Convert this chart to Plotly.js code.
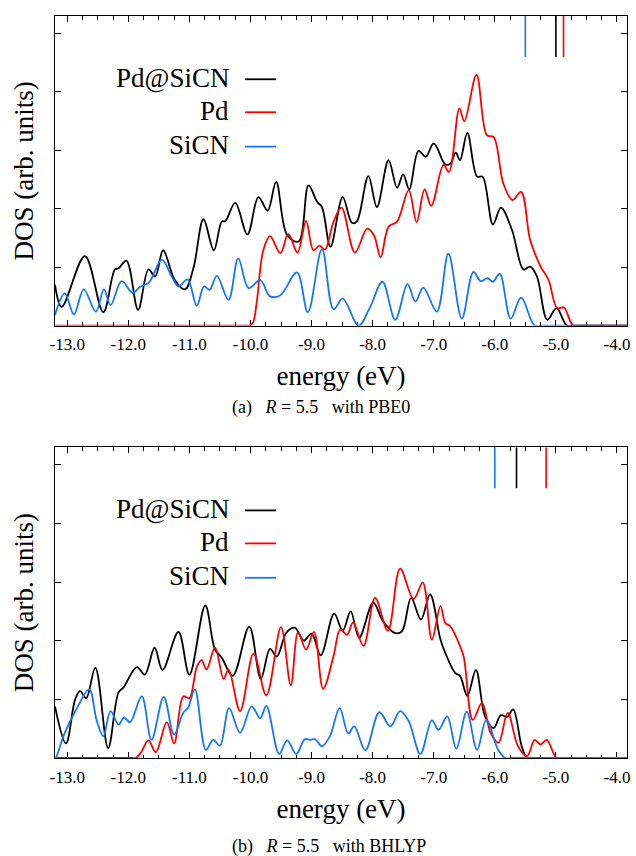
<!DOCTYPE html>
<html>
<head>
<meta charset="utf-8">
<script src="https://cdn.plot.ly/plotly-3.0.1.min.js"></script>
<style>html,body{margin:0;padding:0;background:#fff;}#chart{width:636px;height:856px;}</style>
</head>
<body>
<div id="chart"></div>
<script>
// ---------- data ----------
// Panel (a): R = 5.5 with PBE0
const pdsicnA_E = [-13.20,-13.09,-12.71,-12.41,-12.22,-12.16,-12.03,-11.84,-11.67,-11.56,-11.43,-11.24,-11.07,-10.93,-10.77,-10.60,-10.47,-10.41,-10.25,-10.05,-9.87,-9.72,-9.58,-9.40,-9.21,-9.05,-8.91,-8.83,-8.69,-8.49,-8.34,-8.26,-8.07,-7.93,-7.74,-7.60,-7.50,-7.40,-7.25,-7.13,-7.00,-6.81,-6.73,-6.64,-6.57,-6.45,-6.29,-6.20,-6.03,-5.90,-5.72,-5.53,-5.42,-5.31,-5.14,-4.99,-4.82,-4.70,-3.83];
const pdsicnA_D = [0.70,0.32,1.19,0.23,0.96,0.98,1.11,0.27,0.96,0.84,1.29,0.78,0.62,1.00,1.82,1.29,1.78,1.79,2.10,1.56,2.20,1.97,2.46,1.55,1.44,2.40,2.12,2.03,1.35,2.20,1.76,1.78,2.56,2.03,2.83,2.36,2.59,2.33,2.99,2.89,3.12,2.76,2.77,2.96,2.83,3.30,2.55,2.55,1.73,2.02,1.64,0.96,1.01,0.84,0.10,0.30,0.00,0.00,0.00];

const pdA_E = [-13.20,-10.10,-10.02,-9.96,-9.90,-9.79,-9.68,-9.51,-9.38,-9.23,-9.09,-8.97,-8.87,-8.78,-8.64,-8.51,-8.29,-8.09,-7.98,-7.87,-7.74,-7.60,-7.41,-7.28,-7.15,-7.04,-6.84,-6.75,-6.58,-6.50,-6.30,-6.13,-6.02,-5.86,-5.71,-5.57,-5.42,-5.25,-5.12,-4.98,-4.87,-4.72,-4.60,-3.83];
const pdA_D = [0,0,0,0.05,0.38,1.29,1.53,1.24,1.57,1.25,1.79,1.29,1.37,1.30,1.78,2.02,1.25,1.66,1.55,1.17,1.69,1.78,2.32,1.77,2.33,2.05,2.75,2.63,3.72,3.50,4.29,3.26,3.23,2.43,2.15,2.29,1.46,1.01,0.78,0.30,0.31,0.00,0,0];

const sicnA_E = [-13.20,-13.04,-12.89,-12.73,-12.53,-12.40,-12.29,-12.11,-11.93,-11.81,-11.66,-11.45,-11.29,-11.18,-11.03,-10.88,-10.76,-10.67,-10.55,-10.36,-10.20,-10.03,-9.84,-9.68,-9.51,-9.24,-9.06,-8.83,-8.64,-8.49,-8.23,-8.04,-7.84,-7.63,-7.43,-7.30,-7.17,-6.95,-6.76,-6.54,-6.35,-6.23,-6.12,-6.03,-5.92,-5.74,-5.57,-5.35,-5.22,-3.83];
const sicnA_D = [0.18,0.55,0.19,0.62,0.24,0.62,0.35,0.76,0.56,0.66,0.74,1.13,0.84,0.67,0.79,0.34,0.67,0.61,0.85,0.44,1.15,0.64,0.78,0.50,0.52,0.91,0.23,1.31,0.28,0.46,0.00,0.32,0.75,0.10,0.71,0.41,0.65,0.24,1.23,0.12,0.92,0.76,0.81,0.75,0.89,0.12,0.48,0.00,0,0];

// Panel (b): R = 5.5 with BHLYP
const pdsicnB_E = [-13.20,-13.02,-12.87,-12.79,-12.69,-12.54,-12.33,-12.16,-12.08,-11.86,-11.73,-11.57,-11.44,-11.18,-11.00,-10.74,-10.58,-10.47,-10.29,-10.02,-9.83,-9.68,-9.57,-9.41,-9.27,-9.13,-9.00,-8.85,-8.63,-8.49,-8.36,-8.22,-7.99,-7.83,-7.63,-7.52,-7.37,-7.21,-7.06,-6.89,-6.81,-6.65,-6.57,-6.45,-6.31,-6.16,-6.02,-5.90,-5.80,-5.70,-5.56,-5.47,-5.35,-3.83];
const pdsicnB_D = [0.88,0.25,1.00,1.14,1.02,1.54,0.17,1.12,1.20,1.55,1.42,1.88,1.50,2.15,1.42,2.60,1.85,1.71,1.40,2.24,1.35,1.86,1.73,2.14,2.22,2.00,2.12,1.75,2.46,2.17,2.50,2.05,2.65,2.33,2.13,2.16,2.73,2.36,2.79,2.02,1.79,1.45,1.40,1.06,1.50,0.71,0.51,0.73,0.70,0.83,0.20,0.00,0,0];

const pdB_E = [-13.20,-11.95,-11.88,-11.80,-11.67,-11.55,-11.37,-11.25,-11.10,-11.00,-10.88,-10.80,-10.72,-10.58,-10.44,-10.36,-10.17,-9.95,-9.74,-9.50,-9.34,-9.22,-9.09,-8.96,-8.81,-8.64,-8.53,-8.42,-8.32,-8.15,-7.96,-7.75,-7.55,-7.33,-7.18,-7.03,-6.89,-6.81,-6.73,-6.59,-6.51,-6.36,-6.21,-6.07,-5.94,-5.79,-5.62,-5.47,-5.35,-5.25,-5.15,-4.99,-4.88,-3.83];
const pdB_D = [0,0,0,0.08,0.30,0.10,0.61,0.25,1.05,1.02,1.55,1.67,1.51,1.88,1.35,1.51,0.80,1.78,1.07,2.23,1.24,2.14,1.85,2.15,1.18,1.74,2.19,2.10,2.31,1.91,2.73,2.17,3.23,2.71,2.99,2.02,2.59,2.30,2.25,1.96,1.73,0.65,0.94,0.43,0.26,0.77,0.20,0.03,0.31,0.23,0.31,0.00,0,0];

const sicnB_E = [-13.20,-13.19,-13.04,-12.85,-12.64,-12.52,-12.41,-12.29,-12.16,-12.07,-11.97,-11.78,-11.62,-11.42,-11.25,-11.10,-11.02,-10.91,-10.73,-10.61,-10.50,-10.35,-10.17,-9.98,-9.84,-9.74,-9.53,-9.40,-9.25,-9.11,-9.02,-8.94,-8.83,-8.70,-8.54,-8.40,-8.30,-8.12,-7.89,-7.71,-7.55,-7.41,-7.22,-7.03,-6.92,-6.78,-6.63,-6.46,-6.29,-6.14,-5.95,-5.83,-5.70,-3.83];
const sicnB_D = [0,0.00,0.43,0.83,1.17,0.65,0.37,0.80,0.57,0.69,0.61,1.05,0.31,1.04,0.40,0.77,0.86,1.17,0.14,0.31,0.21,0.85,0.43,0.88,0.68,0.89,0.07,0.30,0.07,0.32,0.31,0.32,0.20,0.37,0.85,0.42,0.54,0.13,0.78,0.54,0.80,0.63,0.07,0.64,0.48,0.71,0.16,0.79,0.14,0.65,0.15,0.00,0,0];

// HOMO energy markers (eV): [SiCN, Pd@SiCN, Pd]
const homoA = [-5.50, -5.00, -4.875];
const homoB = [-6.00, -5.645, -5.16];
const markerSpan = [4.6, 5.3];

// axis ticks
const xTickVals = [-13,-12,-11,-10,-9,-8,-7,-6,-5,-4];
const xTickText = ["-13.0","-12.0","-11.0","-10.0","-9.0","-8.0","-7.0","-6.0","-5.0","-4.0"];
const yTickVals = [0,1,2,3,4,5];

const seriesNames = ["Pd@SiCN","Pd","SiCN"];
const captions = ["(a)\u00a0\u00a0\u00a0<i>R</i>\u00a0=\u00a05.5\u00a0\u00a0\u00a0with PBE0", "(b)\u00a0\u00a0\u00a0<i>R</i>\u00a0=\u00a05.5\u00a0\u00a0\u00a0with BHLYP"];

// ---------- styling ----------
const BLACK = "#000000", RED = "#ff0000", BLUE = "#1577f5";
const colors = [BLACK, RED, BLUE];
const FONT = "'Liberation Serif', 'Times New Roman', Times, serif";
const LW = 1.8;

function curve(x, y, color, name, xa, ya) {
  return {x: x, y: y, type: "scatter", mode: "lines", name: name,
          line: {color: color, width: LW, shape: "spline", smoothing: 1},
          xaxis: xa, yaxis: ya, showlegend: false, hoverinfo: "skip"};
}
function marker(e, color, xa, ya) {
  return {x: [e, e], y: markerSpan, type: "scatter", mode: "lines",
          line: {color: color, width: 1.6}, xaxis: xa, yaxis: ya,
          showlegend: false, hoverinfo: "skip"};
}

const traces = [
  curve(pdsicnA_E, pdsicnA_D, BLACK, seriesNames[0], "x", "y"),
  curve(pdA_E, pdA_D, RED, seriesNames[1], "x", "y"),
  curve(sicnA_E, sicnA_D, BLUE, seriesNames[2], "x", "y"),
  marker(homoA[0], BLUE, "x", "y"),
  marker(homoA[1], BLACK, "x", "y"),
  marker(homoA[2], RED, "x", "y"),
  curve(pdsicnB_E, pdsicnB_D, BLACK, seriesNames[0], "x2", "y2"),
  curve(pdB_E, pdB_D, RED, seriesNames[1], "x2", "y2"),
  curve(sicnB_E, sicnB_D, BLUE, seriesNames[2], "x2", "y2"),
  marker(homoB[0], BLUE, "x2", "y2"),
  marker(homoB[1], BLACK, "x2", "y2"),
  marker(homoB[2], RED, "x2", "y2")
];

function xAxis(anchor) {
  return {
    anchor: anchor, domain: [0, 1], range: [-13.2, -3.836],
    tickmode: "array", tickvals: xTickVals, ticktext: xTickText,
    ticks: "inside", ticklen: 6, tickwidth: 1, tickcolor: "#000",
    ticklabelstandoff: 3,
    minor: {dtick: 0.25, tick0: -13, ticks: "inside", ticklen: 3.5, tickwidth: 1, tickcolor: "#000"},
    showline: true, linecolor: "#000", linewidth: 1.2, mirror: "ticks",
    showgrid: false, zeroline: false, layer: "below traces",
    tickfont: {family: FONT, size: 17, color: "#000"},
    title: {text: "energy (eV)", font: {family: FONT, size: 27, color: "#000"}, standoff: 13}
  };
}
function yAxis(anchor, dom) {
  return {
    anchor: anchor, domain: dom, range: [0, 5.3],
    tickmode: "array", tickvals: yTickVals,
    ticks: "inside", ticklen: 6, tickwidth: 1, tickcolor: "#000",
    showticklabels: false,
    showline: true, linecolor: "#000", linewidth: 1.2, mirror: "ticks",
    showgrid: false, zeroline: false, layer: "below traces",
    title: {text: "DOS (arb. units)", font: {family: FONT, size: 27, color: "#000"}, standoff: 12}
  };
}

// legend geometry (paper coords)
const L = 55, R = 626.7, T = 16, B = 758.3;
const px = v => (v - L) / (R - L);
const py = v => (B - v) / (B - T);
const legendRowsA = [79.3, 112.3, 146.7];
const panelShift = 431.3;

const annotations = [];
const shapes = [];
[0, 1].forEach(p => {
  legendRowsA.forEach((yy, i) => {
    const y = yy + p * panelShift;
    annotations.push({xref: "paper", yref: "paper", x: px(231), y: py(y - 1.5), xanchor: "right", yanchor: "middle",
      text: seriesNames[i], showarrow: false, font: {family: FONT, size: 27, color: "#000"}});
    shapes.push({type: "line", xref: "paper", yref: "paper", x0: px(245), x1: px(276), y0: py(y), y1: py(y),
      line: {color: colors[i], width: LW}});
  });
});
annotations.push({xref: "paper", yref: "paper", x: px(230), y: py(408), xanchor: "left", yanchor: "middle",
  text: captions[0], showarrow: false, font: {family: FONT, size: 18, color: "#000"}});
annotations.push({xref: "paper", yref: "paper", x: px(230), y: py(847), xanchor: "left", yanchor: "middle",
  text: captions[1], showarrow: false, font: {family: FONT, size: 18, color: "#000"}});

const layout = {
  width: 636, height: 856,
  margin: {l: L, r: 636 - R, t: T, b: 856 - B, pad: 0},
  paper_bgcolor: "#fff", plot_bgcolor: "#fff",
  showlegend: false,
  xaxis: xAxis("y"),
  yaxis: yAxis("x", [py(325.7), 1]),
  xaxis2: xAxis("y2"),
  yaxis2: yAxis("x2", [0, py(447.3)]),
  annotations: annotations,
  shapes: shapes,
  font: {family: FONT, color: "#000"}
};

Plotly.newPlot("chart", traces, layout, {staticPlot: true, displayModeBar: false});
</script>
</body>
</html>
